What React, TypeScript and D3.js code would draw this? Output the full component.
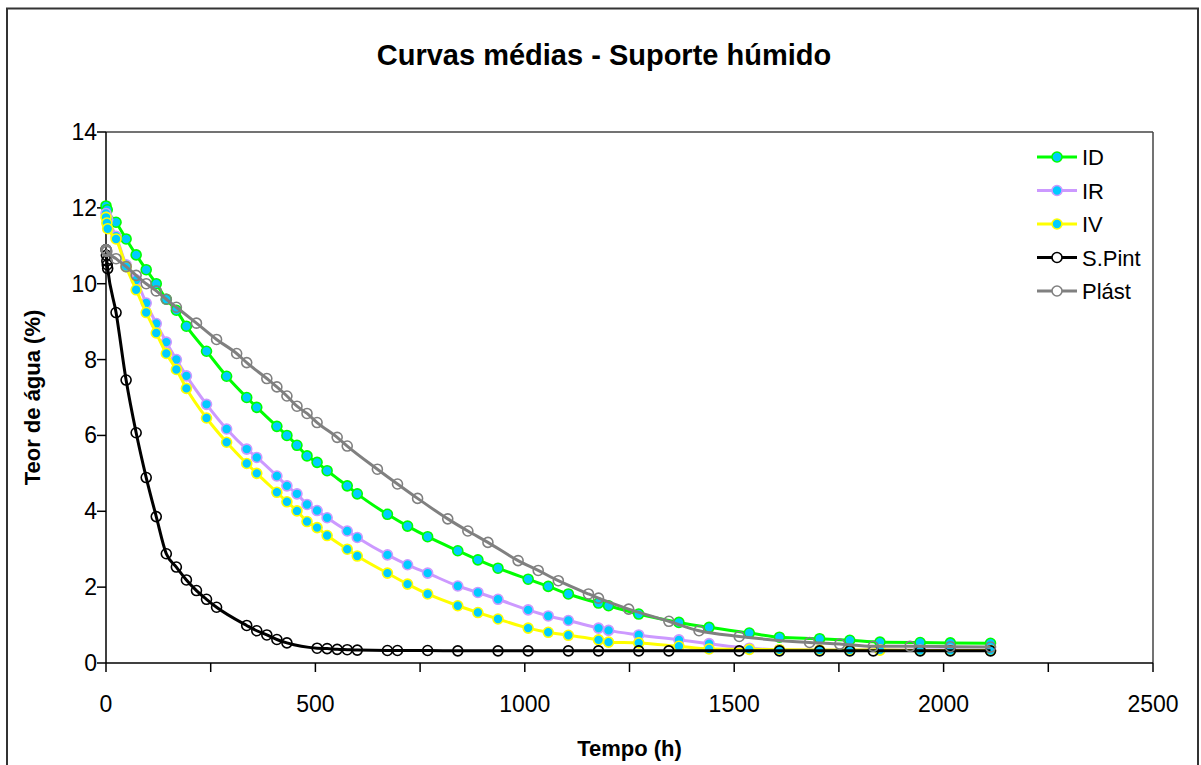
import React from "react";
import * as d3 from "d3";

const title = "Curvas médias - Suporte húmido";
const xLabel = "Tempo (h)";
const yLabel = "Teor de água (%)";
const xTickValues = [0, 250, 500, 750, 1000, 1250, 1500, 1750, 2000, 2250, 2500];
const xLabelValues = [0, 500, 1000, 1500, 2000, 2500];
const yTickValues = [0, 2, 4, 6, 8, 10, 12, 14];

const tID = [0, 3, 24, 48, 72, 96, 120, 144, 168, 192, 240, 288, 336, 360, 408, 432, 456, 480, 504, 528, 576, 600, 672, 720, 768, 840, 888, 936, 1008, 1056, 1104, 1176, 1200, 1272, 1368, 1440, 1536, 1608, 1704, 1776, 1848, 1944, 2016, 2112];
const vID = [12.05, 11.95, 11.62, 11.18, 10.76, 10.37, 10.0, 9.59, 9.3, 8.88, 8.22, 7.56, 7.0, 6.74, 6.24, 6.0, 5.74, 5.46, 5.29, 5.07, 4.67, 4.46, 3.92, 3.61, 3.33, 2.96, 2.72, 2.5, 2.21, 2.02, 1.82, 1.58, 1.51, 1.29, 1.07, 0.94, 0.79, 0.68, 0.64, 0.6, 0.55, 0.54, 0.53, 0.52];

const tI = [0, 2, 4, 24, 48, 72, 96, 120, 144, 168, 192, 240, 288, 336, 360, 408, 432, 456, 480, 504, 528, 576, 600, 672, 720, 768, 840, 888, 936, 1008, 1056, 1104, 1176, 1200, 1272, 1368, 1440, 1536, 1608, 1704, 1776, 1848, 1944, 2016, 2112];
const vIR = [11.85, 11.75, 11.7, 11.25, 10.5, 10.1, 9.49, 8.95, 8.46, 8.0, 7.57, 6.82, 6.17, 5.64, 5.42, 4.93, 4.67, 4.46, 4.18, 4.02, 3.83, 3.48, 3.31, 2.85, 2.59, 2.37, 2.03, 1.86, 1.68, 1.4, 1.24, 1.12, 0.92, 0.86, 0.74, 0.61, 0.51, 0.39, 0.35, 0.34, 0.34, 0.35, 0.34, 0.34, 0.33];
const vIV = [11.75, 11.6, 11.45, 11.18, 10.45, 9.84, 9.24, 8.7, 8.16, 7.74, 7.24, 6.46, 5.82, 5.26, 5.0, 4.5, 4.25, 4.01, 3.73, 3.57, 3.36, 3.0, 2.82, 2.37, 2.08, 1.82, 1.51, 1.33, 1.16, 0.92, 0.81, 0.73, 0.61, 0.55, 0.53, 0.44, 0.37, 0.36, 0.35, 0.34, 0.34, 0.34, 0.33, 0.33, 0.33];

const tSP = [0, 1, 2, 3, 4, 24, 48, 72, 96, 120, 144, 168, 192, 216, 240, 264, 336, 360, 384, 408, 432, 504, 528, 552, 576, 600, 672, 696, 768, 840, 936, 1008, 1104, 1176, 1272, 1344, 1512, 1608, 1704, 1776, 1832, 1944, 2016, 2112];
const vSP = [10.9, 10.75, 10.6, 10.5, 10.4, 9.24, 7.46, 6.07, 4.89, 3.86, 2.88, 2.53, 2.19, 1.91, 1.68, 1.47, 0.99, 0.85, 0.74, 0.62, 0.53, 0.39, 0.38, 0.36, 0.35, 0.34, 0.33, 0.33, 0.33, 0.32, 0.32, 0.32, 0.32, 0.32, 0.32, 0.32, 0.32, 0.32, 0.32, 0.32, 0.32, 0.32, 0.32, 0.32];

const tPL = [0, 1, 2, 24, 48, 72, 96, 120, 144, 168, 216, 264, 312, 336, 384, 408, 432, 456, 480, 504, 552, 576, 648, 696, 744, 816, 864, 912, 984, 1032, 1080, 1152, 1176, 1248, 1344, 1416, 1512, 1680, 1752, 1832, 1920, 2016, 2112];
const vPL = [10.9, 10.88, 10.85, 10.66, 10.45, 10.22, 10.0, 9.81, 9.59, 9.38, 8.96, 8.53, 8.16, 7.92, 7.5, 7.28, 7.04, 6.77, 6.58, 6.34, 5.95, 5.72, 5.11, 4.72, 4.34, 3.8, 3.48, 3.18, 2.7, 2.44, 2.17, 1.82, 1.71, 1.42, 1.1, 0.85, 0.7, 0.54, 0.5, 0.44, 0.44, 0.43, 0.42];

const seriesNames = ["ID", "IR", "IV", "S.Pint", "Plást"];
const seriesTimes = [tID, tI, tI, tSP, tPL];
const seriesValues = [vID, vIR, vIV, vSP, vPL];
const lineColors = ["#00ff00", "#cc99ff", "#ffff00", "#000000", "#808080"];
const markerFills = ["#00ccff", "#00ccff", "#00ccff", "none", "none"];

const FONT = "'Liberation Sans', Arial, sans-serif";

export default function App() {
  const W = 1201, H = 765;
  const left = 106, right = 1153, top = 132, bottom = 663;
  const x = d3.scaleLinear().domain([0, 2500]).range([left, right]);
  const y = d3.scaleLinear().domain([0, 14]).range([bottom, top]);
  const line = d3
    .line<[number, number]>()
    .x((d) => x(d[0]))
    .y((d) => y(d[1]))
    .curve(d3.curveMonotoneX);

  const legX = 1037, legY0 = 157, legStep = 33.5;
  const tickFs = 23;

  return (
    <svg
      width={W}
      height={H}
      style={{ position: "absolute", left: 0, top: 0, background: "#fff" }}
      fontFamily={FONT}
    >
      <rect x={0} y={0} width={W} height={H} fill="#fff" />
      <rect x={7} y={8.5} width={1191} height={780} fill="none" stroke="#333" strokeWidth={2} />
      <text x={604} y={65} textAnchor="middle" fontSize={29} fontWeight="bold">
        {title}
      </text>

      {/* plot frame */}
      <line x1={left} y1={top} x2={right} y2={top} stroke="#444" strokeWidth={1.5} />
      <line x1={right} y1={top} x2={right} y2={bottom} stroke="#444" strokeWidth={1.5} />
      <line x1={left} y1={top} x2={left} y2={bottom} stroke="#000" strokeWidth={1.5} />
      <line x1={left} y1={bottom} x2={right} y2={bottom} stroke="#000" strokeWidth={1.5} />

      {xTickValues.map((t) => (
        <line key={"xt" + t} x1={x(t)} x2={x(t)} y1={bottom} y2={bottom + 9} stroke="#000" strokeWidth={1.5} />
      ))}
      {xLabelValues.map((t) => (
        <text key={"xl" + t} x={x(t)} y={712} textAnchor="middle" fontSize={tickFs}>
          {t}
        </text>
      ))}
      {yTickValues.map((v) => (
        <line key={"yt" + v} x1={left - 9} x2={left} y1={y(v)} y2={y(v)} stroke="#000" strokeWidth={1.5} />
      ))}
      {yTickValues.map((v) => (
        <text key={"yl" + v} x={97} y={y(v) + 8} textAnchor="end" fontSize={tickFs}>
          {v}
        </text>
      ))}

      <text x={(left + right) / 2} y={756} textAnchor="middle" fontSize={22} fontWeight="bold">
        {xLabel}
      </text>
      <text
        transform={`translate(40, ${(top + bottom) / 2}) rotate(-90)`}
        textAnchor="middle"
        fontSize={22}
        fontWeight="bold"
      >
        {yLabel}
      </text>

      {seriesNames.map((name, i) => {
        const pts: [number, number][] = seriesTimes[i].map((t, k) => [t, seriesValues[i][k]]);
        return (
          <g key={name}>
            <path d={line(pts) || ""} fill="none" stroke={lineColors[i]} strokeWidth={3} />
            {pts.map((p, k) => (
              <circle
                key={k}
                cx={x(p[0])}
                cy={y(p[1])}
                r={5}
                fill={markerFills[i]}
                stroke={lineColors[i]}
                strokeWidth={1.6}
              />
            ))}
          </g>
        );
      })}

      {seriesNames.map((name, i) => {
        const ly = legY0 + i * legStep;
        return (
          <g key={"leg" + name}>
            <line x1={legX} x2={legX + 40} y1={ly} y2={ly} stroke={lineColors[i]} strokeWidth={3} />
            <circle cx={legX + 20} cy={ly} r={5} fill={markerFills[i] === "none" ? "#fff" : markerFills[i]} stroke={lineColors[i]} strokeWidth={1.6} />
            <text x={legX + 45} y={ly + 8} fontSize={22}>
              {name}
            </text>
          </g>
        );
      })}
    </svg>
  );
}
